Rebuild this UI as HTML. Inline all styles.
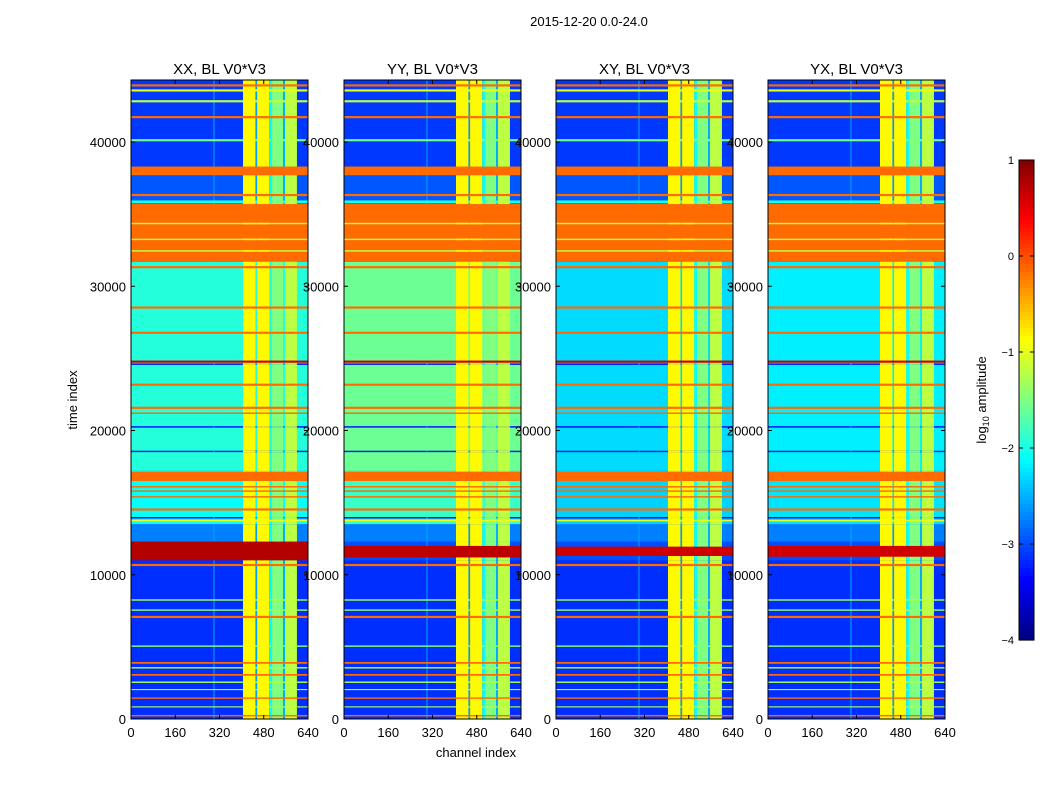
<!DOCTYPE html>
<html><head><meta charset="utf-8">
<style>
body{margin:0;background:#fff;font-family:"Liberation Sans",sans-serif;}
svg text{font-family:"Liberation Sans",sans-serif;fill:#000;}
</style></head>
<body>
<svg id="fig" width="1050" height="800" viewBox="0 0 1050 800">
<rect width="1050" height="800" fill="#fff"/>
<text x="589" y="26" font-size="13" text-anchor="middle">2015-12-20 0.0-24.0</text>
<text x="476" y="757" font-size="13" text-anchor="middle">channel index</text>
<text transform="translate(77,400) rotate(-90)" font-size="13" text-anchor="middle">time index</text>
<g id="panels"></g>
<g id="cbar"></g>
<text transform="translate(986,400) rotate(-90)" font-size="13" text-anchor="middle">log<tspan font-size="9" dy="3">10</tspan><tspan dy="-3"> amplitude</tspan></text>
</svg>
<script>
// ---- data ----
const panelTitles = ["XX, BL V0*V3","YY, BL V0*V3","XY, BL V0*V3","YX, BL V0*V3"];
const xTicks = [0,160,320,480,640];
const yTicks = [0,10000,20000,30000,40000];
const tMax = 44300;
const chMax = 640;
const midLevel = [-1.95, -1.6, -2.3, -2.2];
const lowMidLevel = [-2.1, -1.85, -2.35, -2.25];
const redLevel = [0.75, 0.7, 0.6, 0.6];
const redSpan = [[11000,12300],[11200,12000],[11300,11950],[11250,12000]];
const baseRows = [
 [0,11000,-3.15],[12300,13500,-2.75],[38300,44300,-3.1],[35700,37700,-2.95],
 [31700,35700,-0.15],[37700,38300,-0.15]
];
const lineRows = [
 [43850,44000,-0.15],[43500,43650,-1.0],[42750,42900,-1.2],[41650,41800,-0.15],[40050,40200,-1.6],
 [36250,36400,-0.15],[35750,35950,-2.0],[33200,33300,-1.2],[34300,34400,-1.2],[32400,32500,-1.2],
 [31250,31400,-0.15],[28450,28600,-0.15],[26700,26850,-0.15],[24700,24850,0.6],[24550,24650,-3.3],[23100,23250,-0.15],
 [21500,21650,-0.15],[21150,21250,-0.15],[20200,20300,-3.3],[18500,18600,-3.2],[16500,17150,-0.15],[16050,16150,-0.15],
 [15750,15850,-0.15],[15350,15450,-0.15],[14450,14600,-0.15],[13900,14000,-3.3],[13700,13800,-1.0],
 [10600,10750,-0.15],[8200,8300,-1.3],[7500,7600,-1.4],[7000,7150,-0.15],[5000,5100,-1.5],
 [3830,3950,-0.15],[3500,3600,-1.3],[3000,3120,-0.15],[2500,2600,-1.3],[2000,2080,-1.4],[1400,1500,-0.15],[800,880,-1.3],[180,280,-0.15]
];
const colRanges = [[298,302,-2.6],[405,450,-0.85],[450,456,-2.6],[456,500,-0.85],[500,510,-2.1],[510,550,-1.5],[550,557,-2.5],[557,600,-1.2]];
const cbTicks = [1,0,-1,-2,-3,-4];
const vMin=-4, vMax=1;

// ---- rendering ----
const NS="http://www.w3.org/2000/svg";
function jet(v){
  let x=(v-vMin)/(vMax-vMin); x=Math.max(0,Math.min(1,x));
  const c=t=>Math.round(255*Math.max(0,Math.min(1,t)));
  return `rgb(${c(1.5-Math.abs(4*x-3))},${c(1.5-Math.abs(4*x-2))},${c(1.5-Math.abs(4*x-1))})`;
}
function mk(tag,attrs,parent){const e=document.createElementNS(NS,tag);for(const k in attrs)e.setAttribute(k,attrs[k]);parent.appendChild(e);return e;}
const panelsG=document.getElementById('panels');
const pLeft=[131,344,556,768], pTop=80, pW=177, pH=639;
panelTitles.forEach((title,p)=>{
  const x0=pLeft[p];
  const xS=ch=>x0+ch/chMax*pW;
  const yS=t=>pTop+pH-t/tMax*pH;
  const g=mk('g',{},panelsG);
  
  
  const rows=[[0,tMax,-3.0],[13500,17200,lowMidLevel[p]],[17200,31700,midLevel[p]]]
    .concat(baseRows).concat([[redSpan[p][0],redSpan[p][1],redLevel[p]]]).concat(lineRows);
  rows.forEach(r=>{
    const y1=yS(r[1]), y2=yS(r[0]);
    const rc=mk('rect',{x:x0,y:y1,width:pW,height:Math.max(0.8,y2-y1),fill:jet(r[2])},g);
    
    
    colRanges.forEach(c=>{
      if(c[2]>r[2]){
        const cc=mk('rect',{x:xS(c[0]),y:y1,width:xS(c[1])-xS(c[0]),height:Math.max(0.8,y2-y1),fill:jet(c[2])},g);
        
        
      }
    });
  });
  const fr=mk('rect',{x:x0,y:pTop,width:pW,height:pH,fill:'none',stroke:'#000','stroke-width':1},g);
  
  
  const tt=mk('text',{x:x0+pW/2,y:74,'font-size':15,'text-anchor':'middle'},g);
  tt.textContent=title;
  
  
  xTicks.forEach(v=>{
    const x=xS(v);
    mk('line',{x1:x,x2:x,y1:pTop+pH,y2:pTop+pH-4,stroke:'#000'},g);
    mk('line',{x1:x,x2:x,y1:pTop,y2:pTop+4,stroke:'#000'},g);
    const t=mk('text',{x:x,y:737,'font-size':13,'text-anchor':'middle'},g);
    t.textContent=v;
    
    
  });
  yTicks.forEach(v=>{
    const y=yS(v);
    mk('line',{x1:x0,x2:x0+4,y1:y,y2:y,stroke:'#000'},g);
    mk('line',{x1:x0+pW,x2:x0+pW-4,y1:y,y2:y,stroke:'#000'},g);
    const t=mk('text',{x:x0-5,y:y+5,'font-size':13,'text-anchor':'end'},g);
    t.textContent=v;
    
    
  });
});
const cb=document.getElementById('cbar');
const cbX=1019, cbTop=160, cbH=480, cbW=15;
const cbY=v=>cbTop+(vMax-v)/(vMax-vMin)*cbH;
for(let i=0;i<120;i++){
  const v=vMax-(i+0.5)*(vMax-vMin)/120;
  const r=mk('rect',{x:cbX,y:cbTop+i*cbH/120,width:cbW,height:cbH/120+0.6,fill:jet(v)},cb);
  
  
}
mk('rect',{x:cbX,y:cbTop,width:cbW,height:cbH,fill:'none',stroke:'#000'},cb);
cbTicks.forEach(v=>{
  const y=cbY(v);
  mk('line',{x1:cbX,x2:cbX+4,y1:y,y2:y,stroke:'#000'},cb);
  mk('line',{x1:cbX+cbW,x2:cbX+cbW-4,y1:y,y2:y,stroke:'#000'},cb);
  const t=mk('text',{x:cbX-5,y:y+4,'font-size':11,'text-anchor':'end'},cb);
  t.textContent=v<0?'\u2212'+(-v):v;
  
  
});
</script>
</body></html>
